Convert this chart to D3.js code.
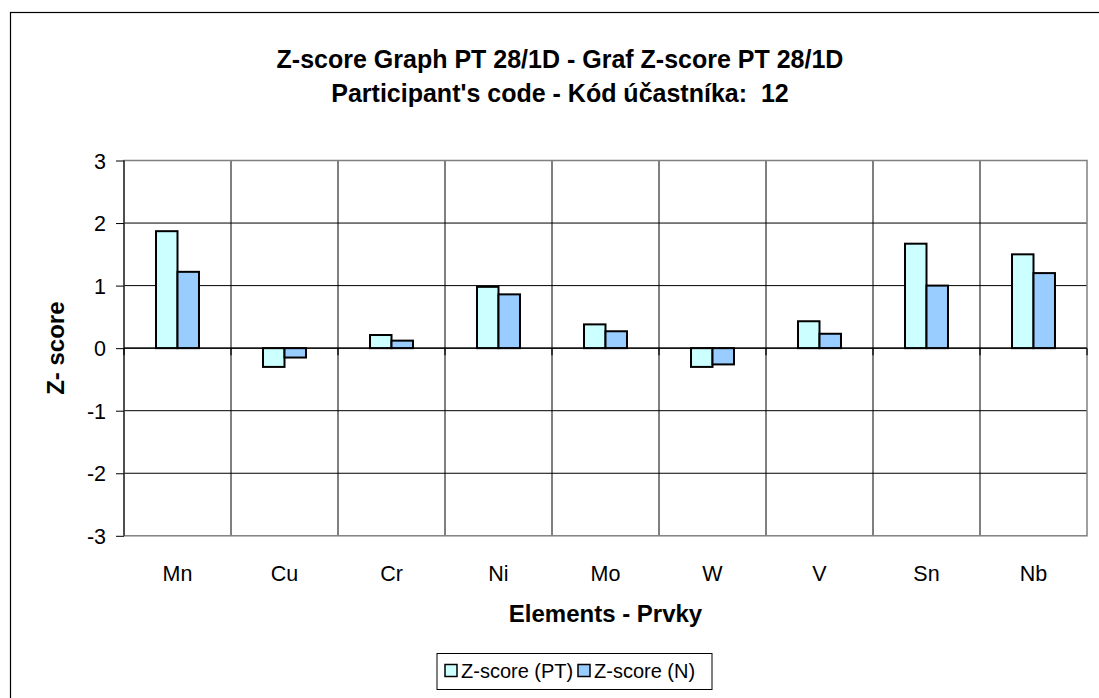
<!DOCTYPE html>
<html><head><meta charset="utf-8">
<script src="https://cdn.jsdelivr.net/npm/d3@7"></script>
<style>body{margin:0;background:#fff}svg{display:block;font-family:Arial,"Liberation Sans",sans-serif}</style>
</head><body><svg id="c" width="1099" height="698"></svg>
<script>
const categories = ["Mn","Cu","Cr","Ni","Mo","W","V","Sn","Nb"];
const seriesNames = ["Z-score (PT)","Z-score (N)"];
const zPT = [1.87,-0.30,0.21,0.98,0.38,-0.30,0.43,1.67,1.50];
const zN  = [1.22,-0.15,0.12,0.86,0.27,-0.26,0.23,1.00,1.20];
const yTicks = [-3,-2,-1,0,1,2,3];
const colors = ["#CCFFFF","#99CCFF"];

const svg = d3.select("#c");
svg.append("rect").attr("x",10.5).attr("y",12.5).attr("width",1100).attr("height",700)
  .attr("fill","#fff").attr("stroke","#000").attr("stroke-width",1.2);

const L=124, R=1087, T=160.5, B=535.8;
const x = d3.scaleBand().domain(categories).range([L,R]);
const y = d3.scaleLinear().domain([-3,3]).range([B,T]);
const xs = d3.scaleBand().domain(seriesNames).range([0,x.bandwidth()]).paddingInner(0).paddingOuter(1.49);

const g = svg.append("g");
g.append("g").selectAll("line").data(yTicks.filter(t=>t!==-3 && t!==3)).join("line")
  .attr("x1",L).attr("x2",R).attr("y1",d=>y(d)).attr("y2",d=>y(d))
  .attr("stroke","#000").attr("stroke-width",1);
g.append("g").selectAll("line").data(categories.slice(1)).join("line")
  .attr("x1",d=>x(d)).attr("x2",d=>x(d)).attr("y1",T).attr("y2",B)
  .attr("stroke","#000").attr("stroke-width",1);
g.append("rect").attr("x",L).attr("y",T).attr("width",R-L).attr("height",B-T)
  .attr("fill","none").attr("stroke","#808080").attr("stroke-width",1.5);

const data = categories.map((c,i)=>({c, v:[zPT[i],zN[i]]}));
seriesNames.forEach((s,si)=>{
  g.append("g").selectAll("rect").data(data).join("rect")
    .attr("x",d=>x(d.c)+xs(s))
    .attr("width",xs.bandwidth())
    .attr("y",d=>Math.min(y(d.v[si]),y(0)))
    .attr("height",d=>Math.abs(y(d.v[si])-y(0)))
    .attr("fill",colors[si]).attr("stroke","#000").attr("stroke-width",2);
});

const ya = d3.axisLeft(y).tickValues(yTicks).tickSize(8).tickPadding(10).tickFormat(d=>String(d));
const yg = svg.append("g").attr("transform",`translate(${L},0)`).call(ya);
yg.select(".domain").attr("stroke","#000").attr("d",`M0,${T}V${B}`);
yg.selectAll(".tick line").attr("stroke","#000");
yg.selectAll("text").attr("font-size",21.5).attr("fill","#000").attr("font-family","Arial, 'Liberation Sans', sans-serif").attr("text-anchor","end").attr("dy","0.35em");

const xg = svg.append("g").attr("transform",`translate(0,${y(0)})`);
xg.append("line").attr("x1",L).attr("x2",R).attr("stroke","#000").attr("stroke-width",1.2);
xg.selectAll("line.t").data(categories.concat(["_end"])).join("line").attr("class","t")
  .attr("x1",(d,i)=>L+i*x.bandwidth()).attr("x2",(d,i)=>L+i*x.bandwidth())
  .attr("y1",0).attr("y2",7).attr("stroke","#000").attr("stroke-width",1.2);

svg.append("g").selectAll("text").data(categories).join("text")
  .attr("x",d=>x(d)+x.bandwidth()/2).attr("y",580.5)
  .attr("text-anchor","middle").attr("font-size",21.5).text(d=>d);

svg.append("text").attr("x",560).attr("y",68).attr("text-anchor","middle").attr("font-size",25).attr("font-weight","bold")
  .text("Z-score Graph PT 28/1D - Graf Z-score PT 28/1D");
svg.append("text").attr("x",560).attr("y",102).attr("text-anchor","middle").attr("font-size",25).attr("font-weight","bold")
  .style("white-space","pre").text("Participant's code - Kód účastníka:  12");
svg.append("text").attr("x",(L+R)/2).attr("y",622).attr("text-anchor","middle").attr("font-size",24).attr("font-weight","bold")
  .text("Elements - Prvky");
svg.append("text").attr("transform",`translate(64,${y(0)}) rotate(-90)`).attr("text-anchor","middle").attr("font-size",24).attr("font-weight","bold")
  .text("Z- score");

const lg = svg.append("g");
lg.append("rect").attr("x",437).attr("y",653.5).attr("width",275).attr("height",36).attr("fill","#fff").attr("stroke","#000").attr("stroke-width",1);
const lx = [445, 578];
seriesNames.forEach((s,i)=>{
  lg.append("rect").attr("x",lx[i]).attr("y",664.5).attr("width",12).attr("height",12).attr("fill",colors[i]).attr("stroke","#000").attr("stroke-width",1.5);
  lg.append("text").attr("x",lx[i]+16).attr("y",678).attr("font-size",20).text(s);
});
</script></body></html>
